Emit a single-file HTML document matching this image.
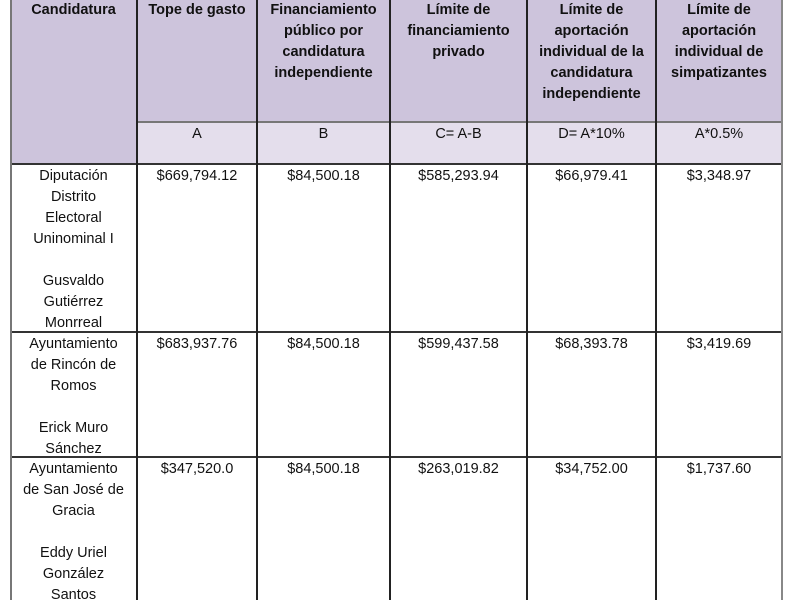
<!DOCTYPE html>
<html><head><style>
body{margin:0;width:800px;height:600px;background:#fff;overflow:hidden;position:relative;font-family:"Liberation Sans",sans-serif;color:#111}
.c{position:absolute;text-align:center;font-size:14.5px;line-height:21px}
.b{font-weight:bold}
.v{position:absolute;width:2px;background:#222}
.h{position:absolute;height:2px;background:#333}
.bg{position:absolute}
</style></head><body>
<div class="bg" style="left:11px;top:0;width:771px;height:164px;background:#cdc4dc"></div>
<div class="bg" style="left:138px;top:122px;width:644px;height:42px;background:#e4deec"></div>
<div class="h" style="left:138px;top:121px;width:644px;background:#777"></div>
<div class="h" style="left:10px;top:163px;width:773px"></div>
<div class="h" style="left:10px;top:331px;width:773px"></div>
<div class="h" style="left:10px;top:456px;width:773px"></div>
<div class="v" style="left:10px;top:0;height:600px;background:#777"></div>
<div class="v" style="left:136px;top:0;height:600px"></div>
<div class="v" style="left:256px;top:0;height:600px"></div>
<div class="v" style="left:389px;top:0;height:600px"></div>
<div class="v" style="left:526px;top:0;height:600px"></div>
<div class="v" style="left:655px;top:0;height:600px"></div>
<div class="v" style="left:781px;top:0;height:600px;background:#888"></div>

<div class="c b" style="left:11px;width:125px;top:0">Candidatura</div>
<div class="c b" style="left:138px;width:118px;top:0">Tope de gasto</div>
<div class="c b" style="left:258px;width:131px;top:0">Financiamiento<br>público por<br>candidatura<br>independiente</div>
<div class="c b" style="left:391px;width:135px;top:0">Límite de<br>financiamiento<br>privado</div>
<div class="c b" style="left:528px;width:127px;top:0">Límite de<br>aportación<br>individual de la<br>candidatura<br>independiente</div>
<div class="c b" style="left:657px;width:124px;top:0">Límite de<br>aportación<br>individual de<br>simpatizantes</div>

<div class="c" style="left:138px;width:118px;top:124px">A</div>
<div class="c" style="left:258px;width:131px;top:124px">B</div>
<div class="c" style="left:391px;width:135px;top:124px">C= A-B</div>
<div class="c" style="left:528px;width:127px;top:124px">D= A*10%</div>
<div class="c" style="left:657px;width:124px;top:124px">A*0.5%</div>

<div class="c" style="left:11px;width:125px;top:166px">Diputación<br>Distrito<br>Electoral<br>Uninominal I<br><br>Gusvaldo<br>Gutiérrez<br>Monrreal</div>
<div class="c" style="left:138px;width:118px;top:166px">$669,794.12</div>
<div class="c" style="left:258px;width:131px;top:166px">$84,500.18</div>
<div class="c" style="left:391px;width:135px;top:166px">$585,293.94</div>
<div class="c" style="left:528px;width:127px;top:166px">$66,979.41</div>
<div class="c" style="left:657px;width:124px;top:166px">$3,348.97</div>

<div class="c" style="left:11px;width:125px;top:334px">Ayuntamiento<br>de Rincón de<br>Romos<br><br>Erick Muro<br>Sánchez</div>
<div class="c" style="left:138px;width:118px;top:334px">$683,937.76</div>
<div class="c" style="left:258px;width:131px;top:334px">$84,500.18</div>
<div class="c" style="left:391px;width:135px;top:334px">$599,437.58</div>
<div class="c" style="left:528px;width:127px;top:334px">$68,393.78</div>
<div class="c" style="left:657px;width:124px;top:334px">$3,419.69</div>

<div class="c" style="left:11px;width:125px;top:459px">Ayuntamiento<br>de San José de<br>Gracia<br><br>Eddy Uriel<br>González<br>Santos</div>
<div class="c" style="left:138px;width:118px;top:459px">$347,520.0</div>
<div class="c" style="left:258px;width:131px;top:459px">$84,500.18</div>
<div class="c" style="left:391px;width:135px;top:459px">$263,019.82</div>
<div class="c" style="left:528px;width:127px;top:459px">$34,752.00</div>
<div class="c" style="left:657px;width:124px;top:459px">$1,737.60</div>
</body></html>
